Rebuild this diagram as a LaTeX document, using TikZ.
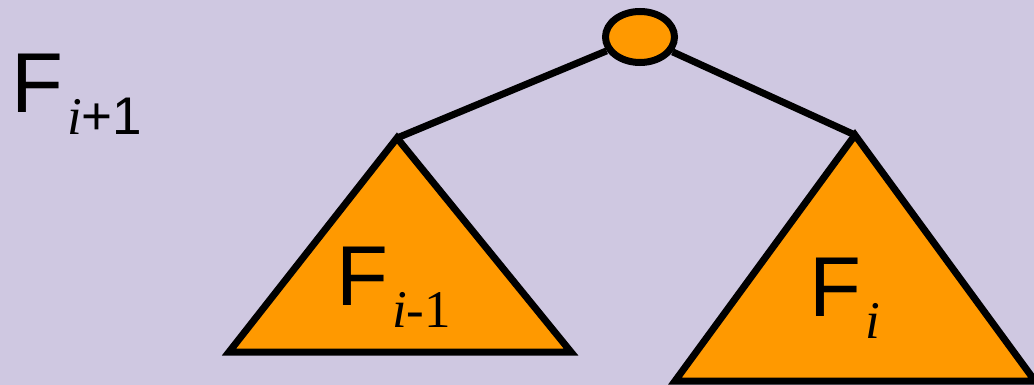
\documentclass[tikz,border=0pt]{standalone}
\usepackage{fontspec}
\setmainfont{Liberation Sans}
\newfontfamily\serifface{Liberation Serif}
\usetikzlibrary{shapes.geometric}
\definecolor{lavender}{HTML}{CFC8E1}
\definecolor{treeorange}{HTML}{FF9900}
% big F with a lowered subscript
\newcommand{\Fsub}[1]{F\hspace{4pt}\raisebox{-22pt}{\fontsize{53}{56}\selectfont #1}}

\begin{document}
\begin{tikzpicture}[
  x=1pt, y=-1pt,
  font=\fontsize{85}{90}\selectfont,
  edge/.style={line width=7pt},
  tri/.style={draw=black, fill=treeorange, line width=7pt, line join=miter},
  lbl/.style={anchor=base west, inner sep=0pt}
]
% ---- Background ----
\fill[lavender] (0,0) rectangle (1034,385);
\useasboundingbox (0,0) rectangle (1034,385);

% ---- Subtrees ----
\begin{scope}
  \clip (0,0) rectangle (1034,385);
  \draw[tri] (397,138) coordinate (leftTop) -- (229,352) -- (571,352) -- cycle;
  \draw[tri] (855,135) coordinate (rightTop) -- (675,381) -- (1035,381) -- cycle;
\end{scope}

% ---- Root ----
\node[draw=black, fill=treeorange, ellipse, line width=7pt,
      minimum width=69pt, minimum height=51pt, inner sep=0pt] (root) at (640,37) {};

\draw[edge] (root) -- (leftTop);
\draw[edge] (root) -- (rightTop);

% ---- Labels ----
\node[lbl] (fNext) at (11,113) {\Fsub{{\serifface\itshape i}+1}};
\node[lbl] (fPrev) at (336,305) {\Fsub{{\serifface\itshape i}{\serifface -1}}};
\node[lbl] (fCur)  at (809,316) {\Fsub{{\serifface\itshape i}}};

\end{tikzpicture}
\end{document}
